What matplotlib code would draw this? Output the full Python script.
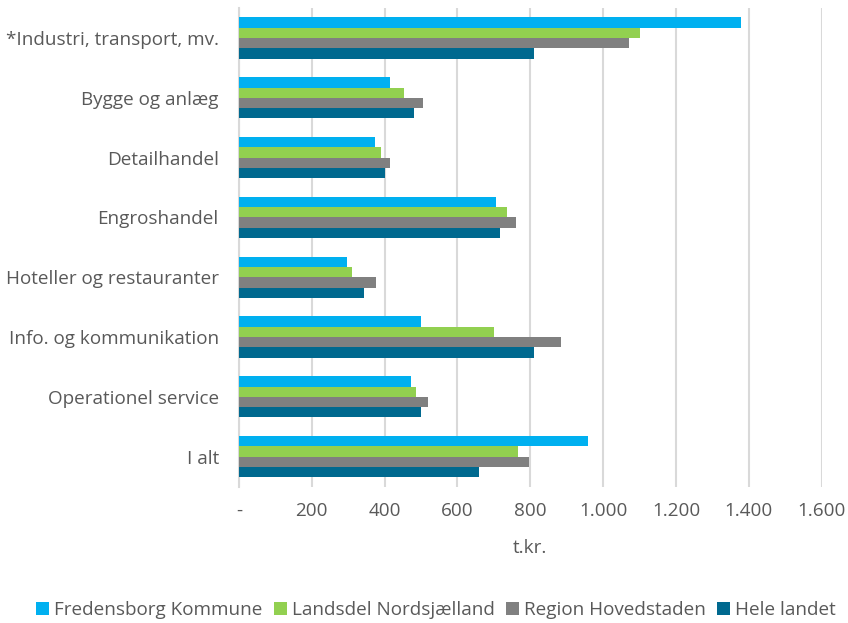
import matplotlib
matplotlib.use("Agg")
import matplotlib.pyplot as plt
import numpy as np

categories = ["*Industri, transport, mv.", "Bygge og anlæg", "Detailhandel", "Engroshandel",
              "Hoteller og restauranter", "Info. og kommunikation", "Operationel service", "I alt"]
series_names = ["Fredensborg Kommune", "Landsdel Nordsjælland", "Region Hovedstaden", "Hele landet"]
fredensborg = [1378, 414, 373, 706, 296, 500, 471, 959]
nordsjaelland = [1101, 452, 390, 736, 310, 700, 485, 766]
hovedstaden = [1071, 505, 416, 762, 375, 885, 518, 797]
hele_landet = [811, 481, 400, 716, 342, 809, 499, 658]
xticks = [0, 200, 400, 600, 800, 1000, 1200, 1400, 1600]
xticklabels = ["-", "200", "400", "600", "800", "1.000", "1.200", "1.400", "1.600"]
colors = ["#00B0F0", "#92D050", "#808080", "#00698F"]

plt.rcParams['font.family'] = ['Open Sans', 'DejaVu Sans']
FS = 13.6
TXT = "#595959"
fig = plt.figure(figsize=(8.48, 6.23), dpi=100)
ax = fig.add_axes([0.2818, 0.219, 0.969 - 0.2818, 0.987 - 0.219])

data = [fredensborg, nordsjaelland, hovedstaden, hele_landet]
n = len(categories)
y = np.arange(n)
h = 0.172
for i, (vals, c, name) in enumerate(zip(data, colors, series_names)):
    offs = (i - 1.5) * h
    ax.barh(y + offs, vals, height=h, color=c, label=name, zorder=3)

ax.set_ylim(n - 0.5, -0.5)
ax.set_xlim(0, 1600)
ax.set_yticks(y)
ax.set_yticklabels(categories, fontsize=FS, color=TXT)
ax.set_xticks(xticks)
ax.set_xticklabels(xticklabels, fontsize=FS, color=TXT)
ax.tick_params(axis='both', length=0)
ax.tick_params(axis='x', pad=11)
ax.tick_params(axis='y', pad=14.5)
ax.grid(axis='x', color="#D9D9D9", linewidth=1.5, zorder=0)
for s in ["top", "right", "bottom"]:
    ax.spines[s].set_visible(False)
ax.spines["left"].set_color("#D9D9D9")
ax.spines["left"].set_linewidth(1.5)
ax.set_xlabel("t.kr.", fontsize=FS, color=TXT, labelpad=14)

fig.legend(loc="center", bbox_to_anchor=(0.514, 0.021), ncol=4, frameon=False,
           fontsize=FS, handlelength=0.7, handleheight=0.7, handletextpad=0.25,
           columnspacing=0.6, labelcolor=TXT)

fig.savefig("out.png", dpi=100)
